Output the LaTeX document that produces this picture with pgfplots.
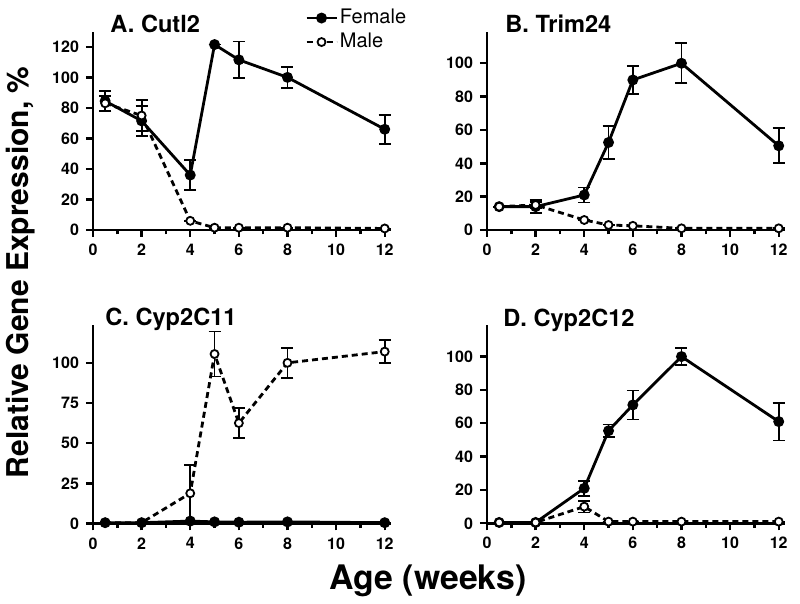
\documentclass[border=0pt]{standalone}
\usepackage{fontspec}
\setmainfont{TeX Gyre Heros}
\usepackage{pgfplots}
\pgfplotsset{compat=1.18}
\pgfplotsset{
 prism/.style={
  scale only axis, width=148.9pt, height=99.2pt,
  xmin=0, xmax=12.25, ymin=0,
  axis lines=left, axis line style={line width=1.4pt, -},
  xtick={0,2,...,12}, minor xtick={1,3,...,11},
  tick align=outside, major tick length=3.5pt, minor tick length=2.2pt,
  every tick/.style={line width=1.2pt, black},
  tick label style={font=\bfseries\fontsize{8}{9}\selectfont},
  /pgf/number format/assume math mode=true,
  clip=false,
 },
 fem/.style={black, line width=1.4pt, mark=*, mark size=2pt, mark options={solid}},
 mal/.style={black, line width=1.4pt, dash pattern=on 3pt off 2pt, mark=*, mark size=2pt, mark options={solid, fill=white, line width=0.9pt}},
 eb/.style={error bars/.cd, y dir=both, y explicit, error bar style={line width=0.9pt, solid}, error mark options={rotate=90, mark size=3pt, line width=0.9pt, solid}},
}
\begin{document}
\begin{tikzpicture}
\path[use as bounding box] (0,0) rectangle (400pt,302pt);
% Panel A
\begin{axis}[prism, at={(46.5pt,187pt)}, anchor=south west, ymax=130, ytick={0,20,...,120},
 legend style={at={(axis cs:8.71,147)}, anchor=north west, draw=none, fill=none,
   font=\fontsize{10}{11}\selectfont, row sep=0pt, inner sep=0pt,
   nodes={inner sep=1pt, text height=7.5pt, text depth=2.5pt}},
 legend image code/.code={\draw[mark repeat=2,mark phase=2,#1] plot coordinates {(0pt,0pt) (7.5pt,0pt) (15pt,0pt)};},
 legend cell align=left]
\addplot[fem, eb] table[y error=e] {
x y e
0.5 84.5 6.5
2 71.5 10
4 36 10
5 121.5 0
6 111.5 12
8 100 7
12 66 9.5
};
\addlegendentry{Female}
\addplot[mal, eb] table[y error=e] {
x y e
0.5 83 5
2 75 10
4 6 0
5 1.5 0
6 1.5 0
8 1.5 0
12 1 0
};
\addlegendentry{Male}
\end{axis}
% Panel B
\begin{axis}[prism, at={(243.5pt,187pt)}, anchor=south west, ymax=119, ytick={0,20,...,100}]
\addplot[fem, eb] table[y error=e] {
x y e
0.5 14 0
2 14 4
4 21 4.5
5 52.5 10
6 90 8.5
8 100 12
12 50.5 10.5
};
\addplot[mal, eb] table[y error=e] {
x y e
0.5 14 0
2 15 2
4 6 0
5 3 0
6 2.5 0
8 1 0
12 1 0
};
\end{axis}
% Panel C
\begin{axis}[prism, at={(46.5pt,40.25pt)}, anchor=south west, ymax=123.5, ytick={0,25,...,100}]
\addplot[mal, eb] table[y error=e] {
x y e
0.5 0.5 0
2 0.5 0
4 18.8 17.5
5 105.5 14
6 62.5 9.5
8 100 9.3
12 107 7
};
\addplot[fem, eb] table[y error=e] {
x y e
0.5 0.5 0
2 0.5 0
4 1.5 0
5 1 0
6 0.8 0
8 1 0
12 0.5 0
};
\end{axis}
% Panel D
\begin{axis}[prism, at={(243.5pt,40.35pt)}, anchor=south west, ymax=119, ytick={0,20,...,100}]
\addplot[fem, eb] table[y error=e] {
x y e
0.5 0.5 0
2 0.5 0
4 21 4.5
5 55.5 3.8
6 71 8.7
8 100 5
12 61 11.3
};
\addplot[mal, eb] table[y error=e] {
x y e
0.5 0.5 0
2 0.5 0
4 10 3.5
5 1 0
6 1 0
8 1 0
12 1 0
};
\end{axis}
\begin{scope}[every node/.style={font=\bfseries\fontsize{11.8}{12}\selectfont, anchor=base west, inner sep=0pt}]
\node at (55pt,285.9pt) {A. Cutl2};
\node at (252.5pt,285.9pt) {B. Trim24};
\node at (52.5pt,139.3pt) {C. Cyp2C11};
\node at (251.5pt,138.8pt) {D. Cyp2C12};
\end{scope}
\node[rotate=90, font=\bfseries\fontsize{15}{16}\selectfont, inner sep=0pt] at (10.5pt,165.8pt) {Relative Gene Expression, \%};
\node[font=\bfseries\fontsize{16.9}{18}\selectfont, inner sep=0pt, anchor=base] at (214pt,7pt) {Age (weeks)};
\end{tikzpicture}
\end{document}
